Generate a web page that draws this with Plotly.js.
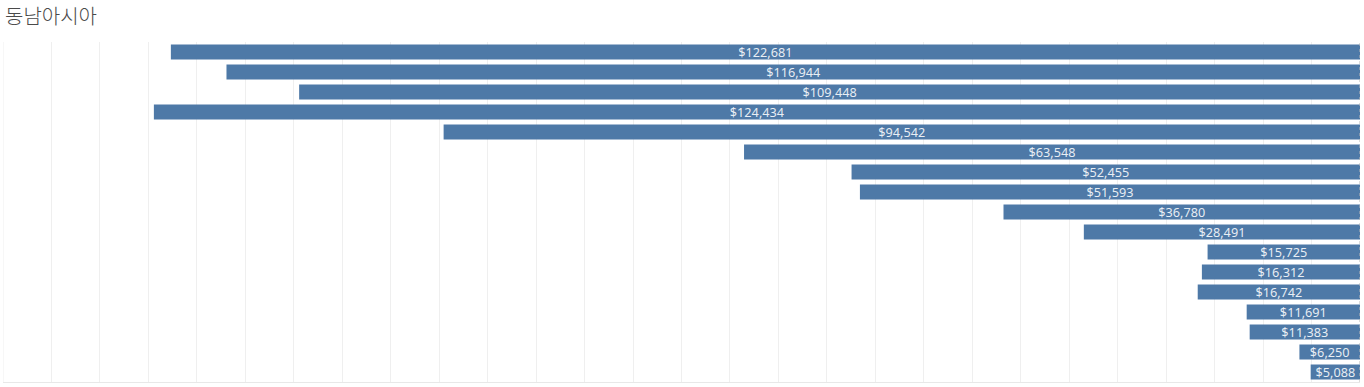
<!DOCTYPE html>
<html>
<head>
<meta charset="utf-8">
<script src="https://cdn.plot.ly/plotly-3.0.1.min.js"></script>
<style>html,body{margin:0;padding:0;background:#fff;}#chart{width:1364px;height:387px;}</style>
</head>
<body>
<div id="chart"></div>
<script>
const chartTitle = "동남아시아";
const categories = ["1","2","3","4","5","6","7","8","9","10","11","12","13","14","15","16","17"];
const sales = [122681, 116944, 109448, 124434, 94542, 63548, 52455, 51593, 36780, 28491, 15725, 16312, 16742, 11691, 11383, 6250, 5088];
const axisMax = 140000;

const trace = {
  type: 'bar',
  orientation: 'h',
  x: sales,
  y: categories,
  marker: {color: '#4e79a7'},
  texttemplate: '$%{x:,}',
  textposition: 'inside',
  insidetextanchor: 'middle',
  textangle: 0,
  constraintext: 'none',
  insidetextfont: {family: '"Noto Sans", sans-serif', size: 12.7, color: 'rgba(255,255,255,0.88)'},
  hoverinfo: 'skip'
};

const layout = {
  width: 1364,
  height: 387,
  margin: {l: 3, r: 4, t: 42, b: 5, pad: 0},
  paper_bgcolor: '#ffffff',
  plot_bgcolor: '#ffffff',
  showlegend: false,
  bargap: 0.25,
  title: {
    text: chartTitle,
    font: {family: '"Noto Sans CJK KR", sans-serif', size: 20, color: '#4a4a4a', weight: 300},
    x: 5/1364, xref: 'container', xanchor: 'left',
    y: 1 - 17/387, yref: 'container', yanchor: 'middle'
  },
  xaxis: {
    range: [axisMax, 0],
    dtick: 5000,
    tick0: 0,
    showgrid: true,
    gridcolor: '#efefef',
    gridwidth: 1,
    zeroline: false,
    showticklabels: false,
    ticks: '',
    showline: true,
    linecolor: '#e8e8e8',
    linewidth: 1,
    fixedrange: true
  },
  yaxis: {
    type: 'category',
    autorange: 'reversed',
    showgrid: false,
    zeroline: false,
    showticklabels: false,
    ticks: '',
    showline: false,
    fixedrange: true
  },
  shapes: [{
    type: 'line', xref: 'x', yref: 'paper',
    x0: axisMax, x1: axisMax, y0: 0, y1: 1,
    line: {color: '#efefef', width: 1},
    layer: 'below'
  }, {
    type: 'line', xref: 'x', yref: 'paper',
    x0: 0, x1: 0, y0: 0, y1: 1,
    line: {color: '#b8b8b8', width: 1, dash: 'dot'},
    layer: 'above'
  }]
};

Plotly.newPlot('chart', [trace], layout, {displayModeBar: false, staticPlot: true});
</script>
</body>
</html>
